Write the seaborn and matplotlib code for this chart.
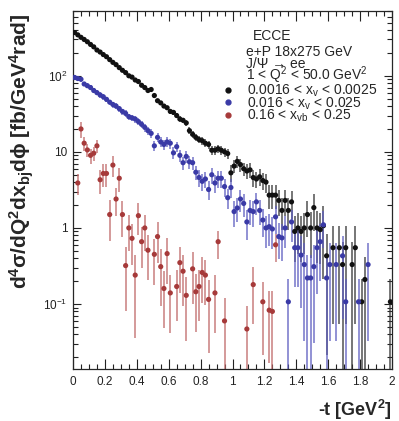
import numpy as np
import pandas as pd
import seaborn as sns
import matplotlib.pyplot as plt
from matplotlib.lines import Line2D
from matplotlib.ticker import FixedLocator, MultipleLocator, FuncFormatter, LogLocator, NullFormatter

sns.set_style("ticks")
plt.rcParams["font.family"] = ["Liberation Sans", "DejaVu Sans"]
plt.rcParams["mathtext.fontset"] = "custom"
plt.rcParams["mathtext.rm"] = "Liberation Sans"
plt.rcParams["mathtext.it"] = "Liberation Sans:italic"
plt.rcParams["mathtext.bf"] = "Liberation Sans:bold"
plt.rcParams["mathtext.default"] = "regular"

## data: bin centre, value, relative error
black_t = [0.01, 0.03, 0.05, 0.07, 0.09, 0.11, 0.13, 0.15, 0.17, 0.19,
           0.21, 0.23, 0.25, 0.27, 0.29, 0.31, 0.33, 0.35, 0.37, 0.39,
           0.41, 0.43, 0.45, 0.47, 0.49, 0.51, 0.53, 0.55, 0.57, 0.59,
           0.61, 0.63, 0.65, 0.67, 0.69, 0.71, 0.73, 0.75, 0.77, 0.79,
           0.81, 0.83, 0.85, 0.87, 0.89, 0.91, 0.93, 0.95, 0.97, 0.99,
           1.01, 1.03, 1.05, 1.07, 1.09, 1.11, 1.13, 1.15, 1.17, 1.19,
           1.21, 1.23, 1.25, 1.27, 1.29, 1.31, 1.33, 1.35, 1.37, 1.39,
           1.41, 1.43, 1.45, 1.47, 1.49, 1.51, 1.53, 1.55, 1.57, 1.59,
           1.63, 1.67, 1.69, 1.71, 1.75, 1.77, 1.81, 1.83, 1.99]
black_y = [370, 345, 320, 300, 280, 258, 240, 218, 205, 190,
           178, 163, 150, 140, 128, 118, 110, 100, 96, 88,
           84, 75, 70, 64, 66, 55, 47, 44, 40, 38,
           34, 33, 30, 27, 26, 24, 19, 17, 15.5, 14.5,
           14, 13, 12.5, 10.5, 10.5, 11, 10.5, 10, 9.5, 5.3,
           6.5, 7.5, 6.8, 6.0, 5.6, 5.8, 4.6, 4.4, 4.7, 4.2,
           4.0, 2.7, 2.7, 2.7, 2.3, 1.7, 2.3, 1.7, 2.2, 0.9,
           1.0, 0.9, 1.0, 1.5, 1.0, 1.85, 1.0, 0.95, 1.07, 0.43,
           0.55, 0.55, 0.33, 0.55, 0.33, 0.55, 0.107, 0.21, 0.107]
black_rel = [.03, .03, .03, .03, .03, .03, .03, .03, .03, .03,
             .03, .03, .03, .03, .04, .04, .04, .04, .04, .05,
             .05, .05, .05, .05, .05, .06, .06, .06, .06, .07,
             .07, .07, .08, .08, .08, .09, .10, .10, .10, .11,
             .11, .12, .12, .13, .13, .13, .14, .14, .15, .25,
             .20, .18, .20, .20, .22, .22, .25, .25, .25, .25,
             .27, .35, .35, .35, .38, .45, .38, .45, .40, .60,
             .55, .60, .55, .50, .60, .50, .65, .65, .80, .95,
             .90, .90, 1.0, .90, 1.0, .90, 1.0, 1.0, 1.0]

blue_t = [0.01, 0.03, 0.05, 0.07, 0.09, 0.11, 0.13, 0.15, 0.17, 0.19,
          0.21, 0.23, 0.25, 0.27, 0.29, 0.31, 0.33, 0.35, 0.37, 0.39,
          0.41, 0.43, 0.45, 0.47, 0.49, 0.51, 0.53, 0.55, 0.57, 0.59,
          0.61, 0.63, 0.65, 0.67, 0.69, 0.71, 0.73, 0.75, 0.77, 0.79,
          0.81, 0.83, 0.85, 0.87, 0.89, 0.91, 0.93, 0.95, 0.97, 0.99,
          1.01, 1.03, 1.05, 1.07, 1.09, 1.11, 1.13, 1.15, 1.17, 1.19,
          1.21, 1.23, 1.25, 1.27, 1.29, 1.31, 1.33, 1.35, 1.37, 1.39,
          1.41, 1.43, 1.45, 1.47, 1.49, 1.51, 1.53, 1.55, 1.57, 1.59,
          1.61, 1.65, 1.69, 1.71, 1.79, 1.85]
blue_y = [95, 92, 90, 78, 74, 70, 64, 60, 56, 53,
          49, 45, 42, 40, 37, 34, 32, 29, 28, 27,
          25, 23, 21, 19, 17.5, 12, 15.5, 13.5, 12.5, 13.5,
          13, 9.7, 11.7, 9, 7.2, 8.7, 7.4, 7.2, 5.4, 4.6,
          4.1, 4.4, 3.2, 5.0, 3.9, 4.5, 4.5, 3.5, 2.5, 3.4,
          1.64, 1.83, 2.4, 2.1, 1.2, 1.7, 1.64, 2.2, 1.7, 1.27,
          1.0, 1.04, 0.97, 1.4, 0.77, 0.74, 1.0, 0.107, 1.2, 0.55,
          0.55, 0.44, 0.33, 0.22, 0.22, 0.31, 0.55, 0.66, 1.1, 0.22,
          0.33, 0.33, 0.43, 0.107, 0.107, 0.33]
blue_rel = [.07, .07, .07, .07, .07, .07, .07, .08, .08, .08,
            .08, .08, .09, .09, .09, .09, .10, .10, .10, .10,
            .11, .11, .12, .12, .13, .15, .14, .15, .15, .15,
            .15, .18, .16, .18, .20, .18, .20, .20, .22, .24,
            .25, .25, .28, .24, .26, .25, .25, .27, .30, .28,
            .38, .35, .32, .33, .42, .36, .37, .32, .36, .40,
            .45, .45, .45, .40, .50, .50, .45, 1.0, .45, .70,
            .70, .80, .90, 1.0, 1.0, .90, .75, .70, .50, 1.0,
            .90, .90, .85, 1.0, 1.0, .90]

red_t = [0.03, 0.05, 0.07, 0.09, 0.11, 0.13, 0.15, 0.17, 0.19, 0.21,
         0.23, 0.25, 0.27, 0.29, 0.31, 0.33, 0.35, 0.37, 0.39, 0.41,
         0.43, 0.45, 0.47, 0.51, 0.53, 0.55, 0.57, 0.59, 0.61, 0.65,
         0.67, 0.69, 0.71, 0.75, 0.77, 0.79, 0.81, 0.83, 0.85, 0.89,
         0.91, 0.95, 1.09, 1.13, 1.19, 1.23, 1.25, 1.27]
red_y = [3.9, 20, 13, 10.6, 9, 9.6, 12, 4.3, 5.2, 5.2,
         1.5, 6.7, 2.4, 4.5, 1.5, 0.32, 1.0, 0.73, 0.24, 1.45,
         0.66, 1.0, 0.51, 0.45, 0.77, 0.31, 0.16, 0.46, 0.14, 0.17,
         0.35, 0.27, 0.13, 0.29, 0.145, 0.17, 0.26, 0.24, 0.115, 0.14,
         0.66, 0.06, 0.047, 0.18, 0.107, 0.083, 0.08, 0.6]
red_rel = [.30, .25, .20, .20, .22, .22, .20, .35, .33, .33,
           .55, .30, .40, .35, .50, .75, .50, .55, .85, .45,
           .55, .50, .60, .60, .55, .70, .70, .60, .70, .65,
           .60, .65, .75, .65, .70, .65, .60, .60, .80, .70,
           .40, 1.0, 1.0, .70, .80, .80, .85, .40]

labels = ["0.0016 < x$_v$ < 0.0025", "0.016 < x$_v$ < 0.025", "0.16 < x$_{vb}$ < 0.25"]
header = ["e+P 18x275 GeV", "J/Ψ → ee", "1 < Q$^2$ < 50.0 GeV$^2$"]
marker_colors = ["#111111", "#3a3aa6", "#a63a3a"]
bar_colors = ["#333333", "#5c5cc0", "#c06868"]

frames = []
for name, t, y, rel in zip(labels, [black_t, blue_t, red_t], [black_y, blue_y, red_y],
                           [black_rel, blue_rel, red_rel]):
    d = pd.DataFrame({"t": t, "val": y, "rel": rel})
    d["series"] = name
    frames.append(d)
df = pd.concat(frames, ignore_index=True)
df["err"] = df["val"] * df["rel"]

fig = plt.figure(figsize=(3.99, 4.21), dpi=100)
ax = fig.add_axes([73 / 399, 1 - 369 / 421, 319 / 399, 358 / 421])
ax.set_yscale("log")

for name, bc in zip(labels, bar_colors):
    d = df[df["series"] == name]
    ax.errorbar(d["t"], d["val"], yerr=d["err"], fmt="none", ecolor=bc,
                elinewidth=1.1, capsize=0, alpha=0.85, zorder=2)

sns.scatterplot(data=df, x="t", y="val", hue="series", palette=marker_colors,
                s=14, linewidth=0, legend=False, ax=ax, zorder=3)

ax.set_xlim(0, 2)
ax.set_ylim(0.014, 710)
ax.set_xlabel("")
ax.set_ylabel("")

# ROOT-like ticks
ax.xaxis.set_major_locator(MultipleLocator(0.2))
ax.xaxis.set_minor_locator(MultipleLocator(0.05))
ax.xaxis.set_major_formatter(FuncFormatter(lambda v, p: f"{v:g}"))
ax.yaxis.set_major_locator(FixedLocator([0.1, 1, 10, 100]))
ylab = {0.1: "10$^{-1}$", 1: "1", 10: "10", 100: "10$^2$"}
ax.yaxis.set_major_formatter(FuncFormatter(lambda v, p: ylab.get(round(v, 3), "")))
ax.yaxis.set_minor_locator(LogLocator(base=10, subs=np.arange(2, 10), numticks=20))
ax.yaxis.set_minor_formatter(NullFormatter())
ax.tick_params(axis="both", which="both", direction="in", top=True, right=True,
               labelsize=8.5, width=0.8, colors="#222222")
ax.tick_params(axis="x", which="major", length=7, pad=5)
ax.tick_params(axis="x", which="minor", length=3.5)
ax.tick_params(axis="y", which="major", length=6, pad=4)
ax.tick_params(axis="y", which="minor", length=3.5)
for s in ax.spines.values():
    s.set_linewidth(0.9)

fig.text(392 / 399, 1 - 410 / 421, "-t [GeV$^2$]", ha="right", va="center",
         fontsize=13, fontweight="bold")
fig.text(22 / 399, 1 - 14 / 421, "d$^4$σ/dQ$^2$dx$_{bj}$dϕ [fb/GeV$^4$rad]",
         rotation=90, ha="center", va="top", fontsize=15, fontweight="bold")

fig.text(272 / 399, 1 - 40 / 421, "ECCE", ha="center", va="baseline", fontsize=10)
for line, ypx in zip(header, [56, 68, 80]):
    fig.text(246 / 399, 1 - ypx / 421, line, ha="left", va="baseline", fontsize=10)

handles = [Line2D([], [], marker="o", linestyle="none", color=c, markersize=3.5)
           for c in marker_colors]
ax.legend(handles, labels, loc="upper left",
          bbox_to_anchor=(222 / 399, 1 - 83 / 421), bbox_transform=fig.transFigure,
          frameon=False, fontsize=10, handlelength=0.8, handletextpad=1.0,
          labelspacing=-0.3, borderpad=0, borderaxespad=0)

fig.savefig("out.png", dpi=100)
